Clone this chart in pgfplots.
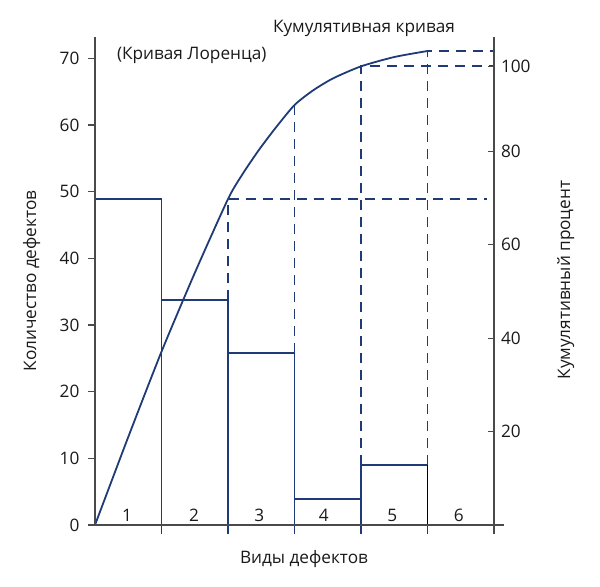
\documentclass[border=0pt]{standalone}
\usepackage{pgfplots}
\pgfplotsset{compat=1.18}
\usepackage{fontspec}
\setmainfont{Open Sans}
\definecolor{navy}{HTML}{1F3B77}
\definecolor{axgray}{HTML}{4A4A4A}
\definecolor{txt}{HTML}{1A1A1A}
\newcommand{\lf}{\fontsize{8.6}{10}\selectfont}
\begin{document}
\begin{tikzpicture}
\path[use as bounding box] (-47.5pt,-30.5pt) rectangle (252.5pt,262.5pt);
\begin{axis}[
  at={(0,0)}, anchor=south west, scale only axis,
  width=204.5pt, height=244pt,
  xmin=0, xmax=6.15, ymin=0, ymax=73.2,
  axis x line*=bottom, axis y line*=left,
  axis line style={-, draw=axgray, line width=0.6pt},
  axis on top,
  xtick={1,2,3,4,5,6}, xticklabels={,,,,,},
  ytick={0,10,20,30,40,50,60,70},
  tick align=outside,
  xtick style={draw=navy, line width=0.9pt, /pgfplots/major tick length=4.5pt},
  ytick style={draw=axgray, line width=0.6pt, /pgfplots/major tick length=3.5pt},
  clip=false,
  /pgf/number format/assume math mode=true,
  tick label style={font=\lf, color=txt},
]
\addplot[ybar interval, draw=navy, fill=none, line width=0.9pt]
  coordinates {(0,48.9) (1,33.7) (2,25.8) (3,3.9) (4,9.0) (5,9.0)};
\addplot[black, line width=0.9pt] coordinates {(5,0) (5,9.0)};
\addplot[navy, line width=0.9pt, dash pattern=on 5pt off 3.5pt] coordinates {(2,33.7) (2,48.9) (5.9,48.9)};
\addplot[navy, line width=0.9pt, dash pattern=on 5pt off 3.5pt] coordinates {(3,25.8) (3,63.0)};
\addplot[navy, line width=0.9pt, dash pattern=on 5pt off 3.5pt] coordinates {(4,9.0) (4,68.8) (6,68.8)};
\addplot[navy, line width=0.9pt, dash pattern=on 5pt off 3.5pt] coordinates {(5,9.0) (5,71.1) (6,71.1)};
\addplot[navy, line width=0.9pt, smooth, tension=0.4] coordinates {(0,0) (0.5,13.2) (1,26.0) (1.5,37.8) (2,48.9) (2.21,52.5) (2.46,56.2) (2.71,59.5) (3,63.0) (3.28,65.2) (3.58,67.0) (4,68.8) (4.5,70.2) (5,71.1)};
\node[font=\lf, color=txt, anchor=base] at (axis cs:0.48,0) [yshift=2pt] {1};
\node[font=\lf, color=txt, anchor=base] at (axis cs:1.49,0) [yshift=2pt] {2};
\node[font=\lf, color=txt, anchor=base] at (axis cs:2.47,0) [yshift=2pt] {3};
\node[font=\lf, color=txt, anchor=base] at (axis cs:3.44,0) [yshift=2pt] {4};
\node[font=\lf, color=txt, anchor=base] at (axis cs:4.47,0) [yshift=2pt] {5};
\node[font=\lf, color=txt, anchor=base] at (axis cs:5.47,0) [yshift=2pt] {6};
\node[font=\lf, color=txt, anchor=base] at (axis description cs:0.511,-0.078) {Виды дефектов};
\node[font=\lf, color=txt, anchor=center, rotate=90] at (axis description cs:-0.155,0.5) {Количество дефектов};
\node[font=\lf, color=txt, anchor=base west] at (axis description cs:0.418,1.010) {Кумулятивная кривая};
\node[font=\lf, color=txt, anchor=base west] at (axis description cs:0.0367,0.953) {(Кривая Лоренца)};
\end{axis}
\begin{axis}[
  at={(0,-4.5pt)}, anchor=south west, scale only axis,
  width=199.5pt, height=248.5pt,
  xmin=0, xmax=6, ymin=-1.925, ymax=104.45,
  hide x axis, axis y line*=right,
  axis line style={-, draw=axgray, line width=0.7pt},
  ytick={20,40,60,80,98.2}, yticklabels={20,40,60,80,100},
  tick align=inside,
  ytick style={draw=axgray, line width=0.6pt, /pgfplots/major tick length=3pt},
  clip=false,
  /pgf/number format/assume math mode=true,
  tick label style={font=\lf, color=txt},
]
\addplot[draw=none] coordinates {(0,0) (6,0)};
\node[font=\lf, color=txt, anchor=center, rotate=90] at (axis description cs:1.18,0.511) {Кумулятивный процент};
\end{axis}
\end{tikzpicture}
\end{document}
